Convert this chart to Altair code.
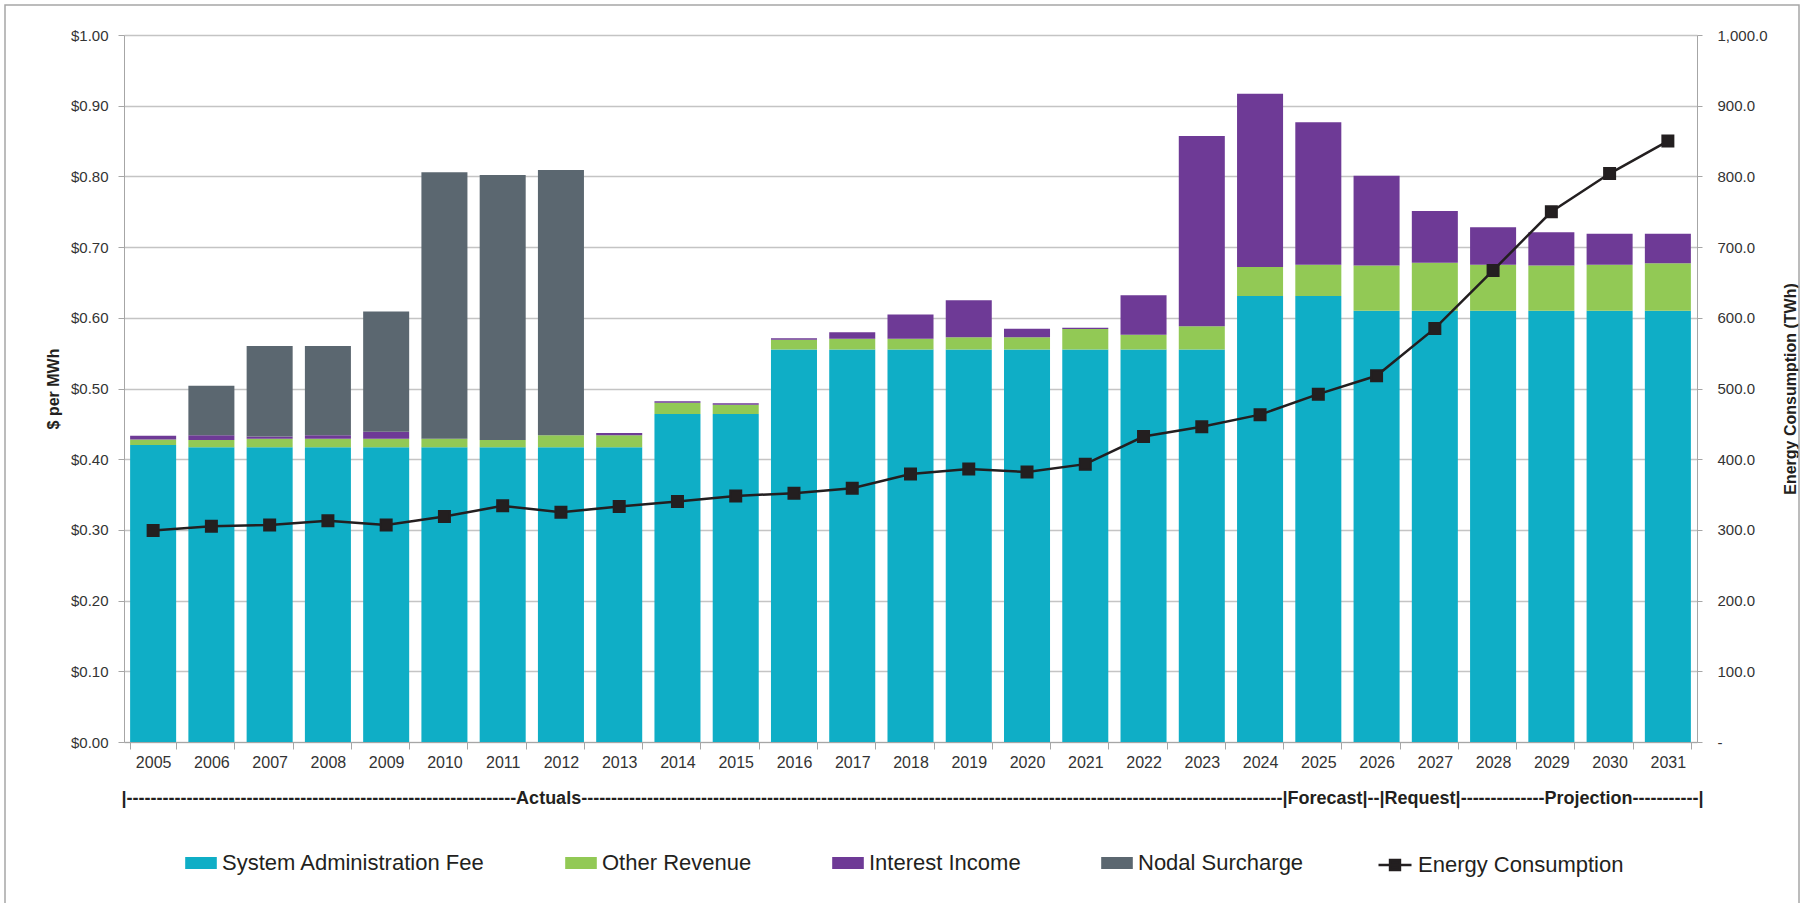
import altair as alt
import pandas as pd

years = [str(y) for y in range(2005, 2032)]

series_names = ["System Administration Fee", "Other Revenue", "Interest Income", "Nodal Surcharge"]
series_colors = ["#0FAEC6", "#92C955", "#6E3A96", "#5B6770"]

saf = [0.420, 0.417, 0.417, 0.417, 0.417, 0.417, 0.417, 0.417, 0.417, 0.464,
       0.464, 0.555, 0.555, 0.555, 0.555, 0.555, 0.555, 0.555, 0.555, 0.631,
       0.631, 0.610, 0.610, 0.610, 0.610, 0.610, 0.610]
other = [0.008, 0.010, 0.012, 0.012, 0.012, 0.012, 0.010, 0.017, 0.017, 0.016,
         0.013, 0.014, 0.0155, 0.0155, 0.0175, 0.0175, 0.029, 0.021, 0.033, 0.041,
         0.044, 0.064, 0.068, 0.065, 0.064, 0.065, 0.067]
interest = [0.005, 0.007, 0.003, 0.005, 0.010, 0.000, 0.000, 0.000, 0.003, 0.002,
            0.002, 0.002, 0.009, 0.034, 0.0525, 0.012, 0.002, 0.056, 0.269, 0.245,
            0.2015, 0.127, 0.073, 0.053, 0.047, 0.044, 0.042]
nodal = [0.000, 0.070, 0.128, 0.126, 0.170, 0.377, 0.375, 0.375, 0.000, 0.000,
         0.000, 0.000, 0.000, 0.000, 0.000, 0.000, 0.000, 0.000, 0.000, 0.000,
         0.000, 0.000, 0.000, 0.000, 0.000, 0.000, 0.000]
energy = [299, 305, 307, 313, 307, 319, 334, 325, 333, 340,
          348, 352, 359, 379, 386, 382, 393, 432, 446, 463,
          492, 518, 585, 667, 750, 804, 850]

left_ticks = [0.0, 0.1, 0.2, 0.3, 0.4, 0.5, 0.6, 0.7, 0.8, 0.9, 1.0]
right_ticks = [0, 100, 200, 300, 400, 500, 600, 700, 800, 900, 1000]

x_title = ("|" + "-" * 65 + "Actuals" + "-" * 117 + "|Forecast|--|Request|"
           + "-" * 14 + "Projection" + "-" * 11 + "|")

rows = []
for i, yr in enumerate(years):
    for k, (name, vals) in enumerate(zip(series_names, [saf, other, interest, nodal])):
        rows.append({"year": yr, "series": name, "order": k, "value": vals[i]})
bars_df = pd.DataFrame(rows)
line_df = pd.DataFrame({"year": years, "energy": energy, "label": ["Energy Consumption"] * len(years)})

FONT = "Liberation Sans"
AXIS_GRAY = "#A6A6A6"

x_enc = alt.X(
    "year:N", sort=years,
    scale=alt.Scale(paddingInner=0.21, paddingOuter=0.105),
    axis=alt.Axis(
        title=x_title, labelAngle=0, labelFont=FONT, labelFontSize=16, labelColor="#333333",
        labelPadding=5, tickSize=7, tickBand="extent", tickColor=AXIS_GRAY, domainColor=AXIS_GRAY,
        grid=False, titleFont=FONT, titleFontSize=18, titleFontWeight="bold", titleColor="#231F20",
        titleX=788, titleY=56, titleBaseline="middle", titleAlign="center",
    ),
)

frame = alt.Chart(pd.DataFrame({"a": [0]})).mark_rect(
    filled=False, stroke="#A6A6A6", strokeWidth=1.5
).encode(
    x=alt.value(-119), x2=alt.value(1675), y=alt.value(-30), y2=alt.value(900)
)

bars = alt.Chart(bars_df).mark_bar().encode(
    x=x_enc,
    y=alt.Y(
        "value:Q", stack="zero",
        scale=alt.Scale(domain=[0, 1], nice=False),
        axis=alt.Axis(
            title="$ per MWh", values=left_ticks, format="$.2f",
            labelFont=FONT, labelFontSize=15, labelColor="#333333", labelPadding=10,
            tickSize=6, tickColor=AXIS_GRAY, domainColor=AXIS_GRAY,
            gridColor="#C4C4C4", gridWidth=1.5,
            titleFont=FONT, titleFontSize=16, titleFontWeight="bold", titleColor="#231F20",
            titleX=-71, titleY=353.5, titleAngle=270, titleAlign="center", titleBaseline="middle",
        ),
    ),
    color=alt.Color(
        "series:N",
        scale=alt.Scale(domain=series_names, range=series_colors),
        legend=alt.Legend(
            title=None, orient="none", legendX=61, legendY=812, direction="horizontal",
            symbolType="M-1,-0.38H1V0.38H-1Z", symbolSize=1000, symbolStrokeWidth=0,
            labelFont=FONT, labelFontSize=22, labelColor="#231F20", labelOffset=5,
            columnPadding=80, labelLimit=500,
        ),
    ),
    order=alt.Order("order:Q"),
)

line = alt.Chart(line_df).mark_line(
    strokeWidth=2.5,
    point=alt.OverlayMarkDef(shape="square", size=121, filled=True, color="#231F20"),
).encode(
    x=x_enc,
    y=alt.Y(
        "energy:Q",
        scale=alt.Scale(domain=[0, 1000], nice=False),
        axis=alt.Axis(
            orient="right", title="Energy Consumption  (TWh)", values=right_ticks,
            labelExpr="datum.value == 0 ? '-' : format(datum.value, ',.1f')",
            labelFont=FONT, labelFontSize=15, labelColor="#333333", labelPadding=15,
            tickSize=5, tickColor=AXIS_GRAY, domainColor=AXIS_GRAY, grid=False,
            titleFont=FONT, titleFontSize=16, titleFontWeight="bold", titleColor="#231F20",
            titleX=93, titleY=353.5, titleAngle=270, titleAlign="center", titleBaseline="middle",
        ),
    ),
    stroke=alt.Stroke(
        "label:N",
        scale=alt.Scale(domain=["Energy Consumption"], range=["#231F20"]),
        legend=alt.Legend(
            title=None, orient="none", legendX=1253, legendY=812, direction="horizontal",
            symbolType="M-1,0H1M-0.3,-0.3H0.3V0.3H-0.3Z", symbolSize=1089,
            symbolStrokeWidth=2.5, symbolFillColor="#231F20", symbolStrokeColor="#231F20",
            labelFont=FONT, labelFontSize=22, labelColor="#231F20", labelOffset=5,
            labelLimit=500,
        ),
    ),
)

chart = alt.layer(frame, bars, line).resolve_scale(y="independent").properties(
    width=1573, height=707,
    autosize=alt.AutoSizeParams(type="none"),
    padding={"left": 124, "top": 35, "right": 112, "bottom": 161},
    background="white",
).configure_view(stroke="transparent")

chart.save("out.html", embed_options={"renderer": "svg", "actions": False})
